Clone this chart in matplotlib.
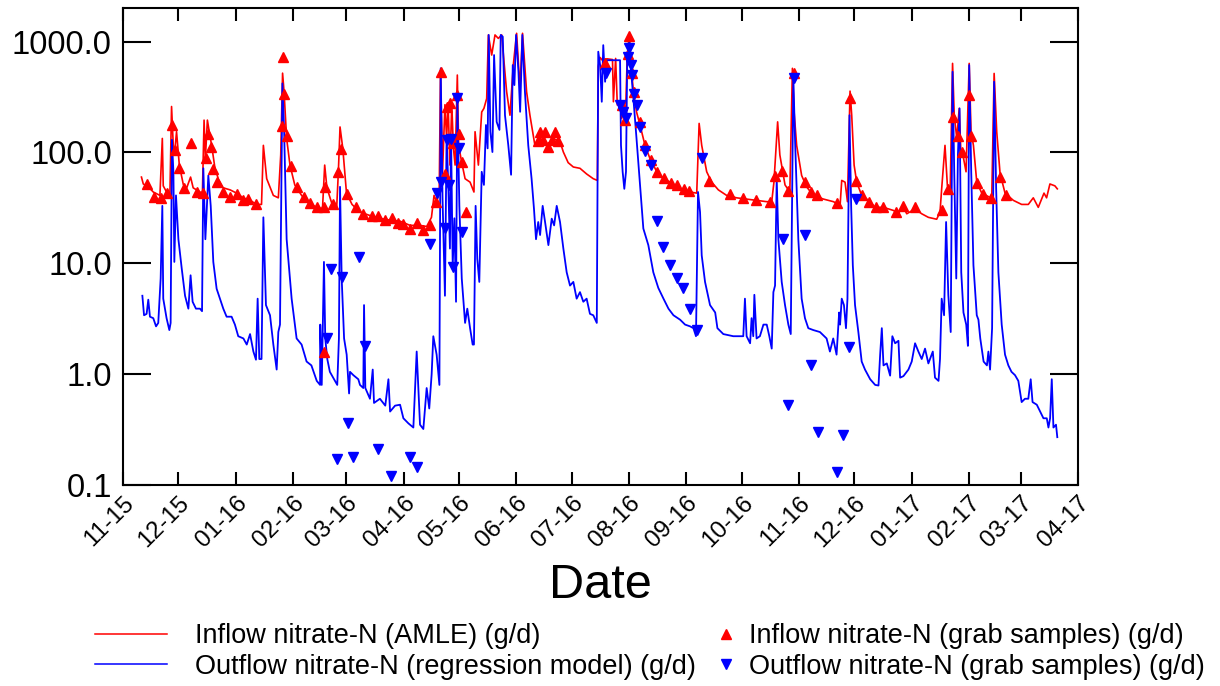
import numpy as np
import pandas as pd
import matplotlib
matplotlib.use("Agg")
import matplotlib.pyplot as plt
import matplotlib.dates as mdates
from matplotlib.lines import Line2D

plt.rcParams['font.family'] = ['Liberation Sans', 'DejaVu Sans']

# Time axis: days elapsed since the start date
START = pd.Timestamp("2015-11-01")

# Inflow nitrate-N, AMLE load estimate (g/d)
inflow_day = [10, 11, 13.7, 16.4, 20, 21.3, 21.8, 23.6, 25.4, 26.3, 27.3, 28, 29, 30.5, 32.7, 34.5,
              36.6, 38, 41.7, 43, 43.9, 44.6, 45.7, 46.7, 48, 49.8, 51.6, 54.3, 58, 61.5, 65, 68.8,
              72.4, 75, 76, 77.8, 81.4, 84.1, 85.4, 86.4, 87.2, 88.6, 90.4, 93, 96.7, 100.3, 104.9,
              108, 109.2, 110.4, 113, 115.7, 116.6, 117.5, 119, 121, 124, 127.4,
              128.3, 133.7, 139, 144.7, 150, 155.4, 160.8, 164.4, 167, 168.4, 169.8, 171.2, 171.9,
              173, 174.3, 175.2, 176, 177, 178, 178.9, 179.8, 181, 181.7, 183.4, 185.2, 187.9, 190,
              190.6, 192.4, 194.2, 195.4, 196.9, 197.8, 199.6, 201.4, 203.2, 205, 207.7, 209.5,
              211.3, 213.1, 214.9, 216.3, 218.5, 220.3, 223, 225.8, 229.4, 233, 236.6, 238.4, 241,
              243.8, 247.4, 251, 254.6, 256.8, 257.3, 258.3, 259.5, 262, 265, 265.5, 266.7, 267.6,
              269, 270, 272.3, 273, 274.1, 275.4, 276.3, 278, 279.9, 282.6, 285.3, 289, 292.6,
              296.2, 301.6, 307, 310.6, 311.9, 313.3, 316, 318.7, 322.3, 326.8, 332.2, 337.6, 343,
              348.5, 351.2, 352.4, 354.4, 355.6, 358.4, 361, 362.4, 363.3, 364.7, 367.4, 370.1,
              373.7, 379.2, 384.6, 387.3, 388.2, 389.1, 390.9, 392.2, 393.6, 394.5, 395.8, 397.2,
              399.9, 403.6, 407.2, 411.7, 417.1, 419.8, 422.1, 424.3, 428.8, 432.4, 436, 440.5,
              442.3, 443.2, 445, 446.3, 447.8, 449.1, 450, 451.4, 452.7, 453.6, 454.7, 456.4,
              458.1, 459.1, 460.4, 462.2, 464.9, 468.5, 470.3, 471.6, 473, 474.8, 477.5, 482,
              486.5, 490.1, 492.8, 495.5, 498.6, 500, 501.8, 504.5, 505.8]
inflow_load = [60, 52, 49, 44, 41, 134, 50, 44, 41, 260, 109, 101, 154, 77, 51, 48,
               60, 48, 44, 43, 196, 88, 196, 154, 116, 72, 58, 48, 46, 43, 39, 37,
               34, 34, 116, 58, 41, 39, 95, 520, 353, 134, 77, 51, 41, 35, 32,
               31, 77, 48, 35, 32, 67, 170, 109, 43, 34, 30,
               29, 27, 25.5, 24.5, 24, 22, 22, 21.5, 26, 41, 36, 44, 550,
               67, 270, 134, 280, 77, 270, 109, 77, 500, 116, 81, 58, 54, 44,
               154, 77, 232, 250, 307, 1150, 757, 1150, 1070, 1150, 353, 217,
               615, 1190, 379, 1190, 353, 217, 116, 134, 116, 134, 125, 101, 81,
               74, 72, 64, 58, 56, 600, 720, 680, 700, 690, 287, 706, 268,
               280, 203, 300, 760, 1150, 535, 353, 233, 177, 116, 88, 67, 58,
               54, 47, 44, 43, 183, 116, 67, 54, 46, 41, 39, 38, 37,
               36, 36, 54, 189, 95, 51, 44, 575, 233, 116, 62, 49,
               41, 38, 36, 34, 33, 56, 54, 36, 358, 217, 77, 54,
               41, 37, 32, 32, 30, 28, 33, 28, 31, 28, 26, 25,
               29, 47, 116, 50, 44, 637, 217, 134, 250, 101, 95, 67,
               637, 154, 116, 54, 43, 40, 38, 517, 154, 65, 43, 37,
               34, 34, 39, 32, 43, 39, 52, 50, 47]

# Outflow nitrate-N, regression model (g/d)
outflow_day = [10.5, 11.4, 12.8, 13.7, 14.6, 16.4, 17.9, 19.1, 20.4, 21.3, 21.8, 22.7, 23.6, 25.1,
               25.8, 26.5, 27.3, 27.8, 28.7, 30, 31.8, 33.6, 35.4, 36.6, 37.7, 39.5, 41.7, 42.8,
               43.5, 44.6, 45.3, 46.2, 47.5, 48.9, 50.7, 52.5, 54.3, 56.1, 58.8, 60.6, 62.4, 65.2,
               67, 68.8, 70.6, 72, 72.9, 73.8, 75, 76, 77.4, 79.6, 81.4, 83.2, 84.1, 85, 86.3,
               87.2, 88.6, 91.3, 94, 96.7, 99.4, 102, 104.9, 106.7, 106.8, 107.6, 108.8, 109.5,
               110.6, 112, 114.8, 116, 116.9, 117.5, 118.4, 119.7, 121.1, 122.4, 122.9, 124.7,
               127.4, 128.3, 130.1, 130.5, 131.2, 133.7, 135.2, 135.9, 139.1, 142, 143.7, 144.6,
               147.3, 150, 151.8, 154.5, 157.2, 159, 160.8, 162.6, 164.4, 165.8, 167.1, 168,
               169.8, 171.3, 172, 173, 174.3, 175.2, 176.1, 177, 177.6, 178.5, 179.4, 180.3, 181,
               182.1, 183.4, 185.2, 186.4, 187.9, 189.3, 190, 190.9, 191.8, 192.9, 194.2, 195.4,
               196.5, 197.4, 198, 198.9, 200, 200.9, 202.3, 203.8, 204.5, 205.6, 206.8, 208.6,
               210.1, 211, 211.9, 212.8, 214.1, 215, 216.2, 217.6, 219.4, 221.2, 222.5, 223.6,
               224.8, 225.8, 227.2, 228.5, 230.3, 232.1, 233.4, 234.8, 236.6, 238.4, 240.2, 242,
               243.8, 245.6, 247.4, 249.2, 251, 252.8, 254.6, 256.5, 257.3, 258.3, 259.2, 260,
               261, 261.9, 269.1, 269.6, 270.5, 271.4, 272.3, 273, 274.1, 274.8, 276.3, 278,
               279.9, 281.7, 284.4, 287.1, 289.8, 292.6, 295.3, 298, 301.6, 304.3, 307, 308.8,
               310.2, 311.3, 312.4, 313.3, 315.1, 317.8, 320.6, 321.8, 325, 330.4, 335.8, 336.7,
               337.6, 339.5, 340.3, 341.2, 341.8, 343, 344.8, 346.7, 348.5, 349.9, 351.2, 352.1,
               353, 353.9, 354.8, 356.6, 358.4, 360.2, 361.5, 362.9, 363.8, 365.6, 367.4, 369.2,
               371, 373.7, 377.3, 380.9, 382.7, 384.5, 386.3, 387.7, 388.2, 389.1, 390.3, 391.4,
               392.2, 393.3, 394.2, 395.1, 396.3, 398.1, 399.9, 401.7, 404.5, 407.2, 409, 409.9,
               410.8, 411.7, 413.5, 415.3, 416.5, 418, 419.8, 420.7, 422.5, 425.2, 427, 428.8,
               430.6, 432.4, 434.2, 436, 438.4, 439.6, 441.5, 442.3, 443.2, 444.5, 445.6, 446.8,
               448.1, 449.1, 450, 451.1, 452, 452.9, 453.8, 455, 456.5, 457.4, 458.1, 459.2,
               460.4, 462.2, 463.1, 464.1, 465.9, 467.7, 468.5, 469.4, 470.5, 471.6, 472.7, 473.9,
               475.7, 477.5, 479.3, 481, 482.9, 484.7, 486.5, 488.3, 490.1, 491.4, 492.4, 494.7,
               496.5, 498.3, 500.1, 501, 501.9, 502.8, 503.7, 505.1, 505.8]
outflow_load = [5.1, 3.4, 3.5, 4.7, 3.3, 3.2, 2.7, 2.9, 7.3, 33, 4.8, 3.9, 3.2, 2.5,
                2.9, 130, 67, 10.3, 41, 16.5, 9, 5.1, 3.9, 7.8, 4.5, 3.9, 3.9, 3.7,
                72, 16.5, 29, 62, 33, 10.3, 5.9, 4.8, 3.9, 3.3, 3.3, 2.8, 2.2, 2.1,
                1.85, 2.3, 1.6, 1.35, 4.8, 1.37, 1.37, 26, 4.2, 3.4, 1.85, 1.1, 2.4, 2.8, 420,
                165, 16.5, 4.8, 2.1, 1.85, 1.3, 1.2, 0.87, 0.8, 2.8, 0.8, 10.3, 2.1,
                1.37, 1.05, 0.87, 0.8, 2.1, 49, 7.3, 2.1, 1.5, 0.67, 1.05, 0.98,
                0.9, 0.8, 0.75, 4.2, 0.75, 0.6, 1.1, 0.55, 0.6, 0.52, 0.9, 0.46,
                0.52, 0.53, 0.4, 0.36, 0.33, 1.6, 0.35, 0.32, 0.75, 0.49, 1.0, 2.2,
                1.5, 0.8, 575, 38, 5.1, 144, 51, 13.6, 144, 9.6, 25.5, 4.5, 308,
                33, 7.3, 2.9, 3.9, 2.6, 1.85, 1.85, 33, 11, 6.8, 67, 51,
                177, 109, 1150, 154, 101, 757, 189, 160, 1150, 1110, 217, 116,
                63, 615, 406, 1150, 536, 233, 1150, 353, 116, 58, 31, 16.5,
                23.6, 18, 33, 23.6, 14.6, 25.3, 22, 33, 23.6, 13.6, 8.3, 6.3,
                6.8, 4.8, 5.5, 4.5, 4.8, 3.5, 3.4, 2.9, 812, 615, 287, 930,
                435, 680, 680, 116, 67, 47, 67, 757, 1000, 615, 308, 134,
                51, 20.6, 14.6, 8.3, 6, 4.8, 3.9, 3.4, 3.1, 2.8, 2.7, 2.6,
                2.2, 44, 29, 11.8, 6.8, 4.2, 3.6, 2.6, 2.3, 2.2, 2.2, 4.8,
                2.2, 1.9, 3.2, 2.2, 5.2, 2.1, 2.2, 2.8, 2.8, 2.2, 1.7, 5.5,
                6.3, 58, 16.5, 6.8, 4.2, 2.8, 2.3, 483, 134, 16.5, 4.8, 3.2,
                2.6, 2.5, 2.4, 2.1, 1.6, 2.1, 1.5, 3.6, 2.8, 4.8, 4.2, 2.6,
                4.8, 217, 33, 9.6, 4.2, 2.4, 1.3, 1.1, 0.9, 0.8, 0.79, 1.5,
                2.6, 1.2, 1.25, 0.97, 2.2, 1.9, 2.0, 0.93, 0.96, 1.1, 1.3, 1.9,
                1.6, 1.37, 1.7, 1.25, 1.6, 0.93, 0.87, 1.37, 4.8, 3.4, 23.6, 5.2,
                2.4, 535, 67, 7.3, 95, 250, 8.3, 3.6, 2.8, 1.8, 615, 67,
                9.6, 3.4, 3.1, 2.1, 1.3, 1.2, 1.6, 1.1, 2.6, 435, 47, 8.3,
                2.8, 1.5, 1.2, 1.05, 0.98, 0.87, 0.56, 0.6, 0.6, 0.9, 0.56, 0.53,
                0.46, 0.4, 0.4, 0.33, 0.4, 0.9, 0.33, 0.35, 0.27]

# Inflow nitrate-N, grab samples (g/d)
inflow_grab_day = [13.2, 17, 20.4, 24, 26.7, 28.2, 30.3, 33, 36.6, 39.9, 43.5, 45, 46.2, 47.5, 48.9,
                   51.1, 54.3, 57.9, 61.5, 65.2, 67.9, 71.8, 85.9, 86.8, 87.3, 89, 91, 94.4, 98,
                   101.2, 105.2, 108.8, 109.4, 108.8, 113.5, 116.6, 118, 121.1, 126, 130, 134.6,
                   138.2, 141.6, 145.5, 149, 151.8, 155.4, 159, 162.6, 166.2, 169.5, 172, 174.4,
                   175.6, 177, 178.5, 181, 182.1, 183.6, 185.7, 224.8, 225.8, 227.5, 228.5, 230.3,
                   232, 233.9, 235.7, 260.9, 270.4, 271.8, 273.6, 274.1, 275.8, 276.7, 280, 282.6,
                   285.9, 289.3, 292.9, 296.6, 300.1, 303.7, 306.5, 317.3, 328.6, 335.8, 342.7,
                   350, 353, 356.6, 360.2, 363, 369.2, 372.3, 375.9, 386.8, 393.6, 396.9, 400.3,
                   403.6, 407.7, 411.7, 418.5, 422.1, 428.8, 443.2, 446.5, 449.2, 451.9, 454.3,
                   458, 459.3, 462.2, 465.8, 469.8, 474.8, 478.1]
inflow_grab = [52, 40, 39, 43, 177, 105, 73, 48, 123, 44, 43, 90, 148, 112, 71,
               54, 44, 40, 42, 37, 38, 34, 174, 730, 334, 141, 76, 49, 40,
               35, 32, 32, 49, 1.58, 34, 67, 107, 42, 32, 28, 27,
               27, 24.5, 25.5, 23, 22.5, 20.6, 23, 20, 22, 36, 536, 64,
               260, 277, 121, 330, 148, 82, 29, 126, 154, 130, 154, 112,
               130, 154, 126, 640, 270, 196, 770, 1130, 517, 350, 189, 116,
               86, 67, 59, 53, 51, 47, 45, 55, 42, 39, 37,
               36, 62, 68, 45, 517, 54, 44, 41, 35, 308, 55, 41,
               36, 32, 32, 29, 33, 32, 30, 47, 210, 141, 101,
               330, 141, 53, 42, 39, 60, 41]

# Outflow nitrate-N, grab samples (g/d)
outflow_grab_day = [110.5, 112.6, 115.7, 118.7, 121.7, 124.7, 127.8, 131, 138, 145.3, 155.6, 159.3,
                    166.2, 169.9, 171.9, 174.4, 175.4, 176.6, 177.5, 178.5, 181, 182, 183.7,
                    261.5, 269.1, 270.5, 272.3, 273.2, 274.1, 274.8, 275.4, 276.7, 278.1, 279.9,
                    282.6, 285.9, 289.3, 292.5, 296.2, 299.8, 303.4, 306.8, 310.5, 313.7, 357.1,
                    360.2, 363, 369.2, 372.5, 376.1, 386.5, 390, 393.3, 396.7]
outflow_grab = [2.1, 8.9, 0.17, 7.5, 0.36, 0.18, 11.3, 1.8, 0.21, 0.12, 0.18, 0.145,
                15, 43, 54, 21, 131, 51, 133, 9.3, 310, 109, 19,
                517, 270, 233, 203, 730, 870, 615, 500, 335, 268, 171,
                104, 77, 24, 14, 9.6, 7.4, 6, 3.9, 2.5, 90, 16.7,
                0.53, 473, 18, 1.2, 0.3, 0.13, 0.28, 1.77, 38]

labels = ["Inflow nitrate-N (AMLE) (g/d)",
          "Outflow nitrate-N (regression model) (g/d)",
          "Inflow nitrate-N (grab samples) (g/d)",
          "Outflow nitrate-N (grab samples) (g/d)"]


def to_dates(days):
    return START + pd.to_timedelta(np.array(days, dtype=float), unit="D")


fig = plt.figure(figsize=(12.2, 6.86), dpi=100)
ax = fig.add_axes([0.1008, 0.2930, 0.7828, 0.6949])

ax.plot(to_dates(inflow_day), inflow_load, color="#ff0000", lw=1.2, zorder=2)
ax.plot(to_dates(outflow_day), outflow_load, color="#0000ff", lw=1.3, zorder=3)
ax.plot(to_dates(inflow_grab_day), inflow_grab, ls="none", marker="^", ms=7,
        color="#ff0000", zorder=4)
ax.plot(to_dates(outflow_grab_day), outflow_grab, ls="none", marker="v", ms=7,
        color="#0000ff", zorder=5)

ax.set_yscale("log")
ax.set_ylim(0.1, 2000)
ax.set_xlim(pd.Timestamp("2015-11-01"), pd.Timestamp("2017-04-01"))

ax.set_yticks([0.1, 1, 10, 100, 1000])
ax.set_yticklabels(["0.1", "1.0", "10.0", "100.0", "1000.0"])
ax.yaxis.set_minor_locator(matplotlib.ticker.NullLocator())
ax.tick_params(axis="y", which="major", direction="in", length=20, width=1.5,
               labelsize=23.5, pad=8, right=True)

ax.xaxis.set_major_locator(mdates.MonthLocator())
ax.xaxis.set_major_formatter(mdates.DateFormatter("%m-%y"))
ax.tick_params(axis="x", which="major", direction="in", length=9.5, width=1.5,
               labelsize=17.5, pad=5, top=True)
for lab in ax.get_xticklabels():
    lab.set_rotation(45)
    lab.set_ha("right")
    lab.set_rotation_mode("anchor")

for sp in ax.spines.values():
    sp.set_linewidth(1.5)

fig.text(0.492, 1 - 585 / 686, "Date", fontsize=35, ha="center", va="center")

line_handles = [Line2D([], [], color="#ff0000", lw=1.1),
                Line2D([], [], color="#0000ff", lw=1.1)]
mark_handles = [Line2D([], [], ls="none", marker="^", ms=7, color="#ff0000"),
                Line2D([], [], ls="none", marker="v", ms=7, color="#0000ff")]

leg1 = fig.legend(line_handles, labels[:2], loc="upper left",
                  bbox_to_anchor=(95 / 1220, 1 - 623 / 686), frameon=False,
                  fontsize=19.5, handlelength=2.65, handletextpad=1.05,
                  labelspacing=0.17, borderpad=0, borderaxespad=0)
leg2 = fig.legend(mark_handles, labels[2:], loc="upper left",
                  bbox_to_anchor=(712 / 1220, 1 - 623 / 686), frameon=False,
                  fontsize=19.5, handlelength=1.0, handletextpad=0.35,
                  labelspacing=0.17, borderpad=0, borderaxespad=0)

fig.savefig("out.png", dpi=100)
